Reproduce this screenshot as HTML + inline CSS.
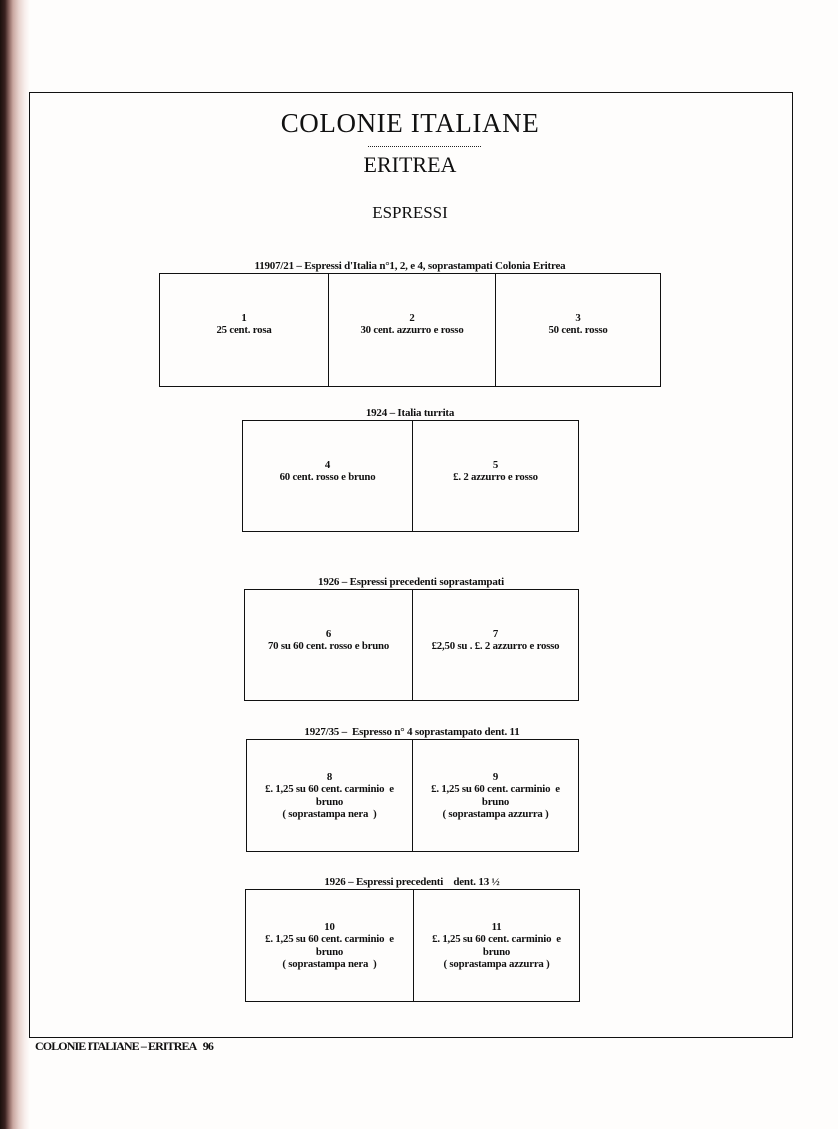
<!DOCTYPE html>
<html><head><meta charset="utf-8"><style>
*{margin:0;padding:0;box-sizing:border-box}
body{width:838px;height:1129px;position:relative;overflow:hidden;background:#fefdfc;font-family:"Liberation Serif",serif;color:#111}
.edge{position:absolute;left:0;top:0;width:30px;height:1129px;background:linear-gradient(to right,#1a0f0c 0px,#3a2220 5px,#8a6560 9px,#c9a7a0 13px,#e8d4cf 19px,#f8efec 25px,#fefdfc 30px)}
.frame{position:absolute;left:29px;top:92px;width:764px;height:946px;border:1.5px solid #111}
.t{position:absolute;left:0;width:820px;text-align:center}
.box{position:absolute;border:1.5px solid #111;display:flex}
.cell{flex:1;display:flex;align-items:center;justify-content:center;text-align:center;font-size:10.8px;font-weight:bold;line-height:12.5px;letter-spacing:-0.2px}
.cell+.cell{border-left:1.5px solid #111}
.cap{position:absolute;font-size:11px;font-weight:bold;text-align:center;white-space:nowrap;letter-spacing:-0.2px}
</style></head><body>
<div class="edge"></div>
<div class="frame"></div>
<div class="t" style="top:108px;font-size:27px;letter-spacing:0.6px">COLONIE ITALIANE</div>
<div style="position:absolute;left:368px;top:146px;width:113px;border-top:1.5px dotted #222"></div>
<div class="t" style="top:152px;font-size:22px">ERITREA</div>
<div class="t" style="top:203px;font-size:17px">ESPRESSI</div>

<div class="cap" style="left:160px;width:500px;top:260px">11907/21 – Espressi d'Italia n°1, 2, e 4, soprastampati Colonia Eritrea</div>
<div class="box" style="left:159px;top:273px;width:502px;height:114px">
<div class="cell" style="flex:0 0 168px;padding-bottom:12px">1<br>25 cent. rosa</div>
<div class="cell" style="flex:0 0 167px;padding-bottom:12px">2<br>30 cent. azzurro e rosso</div>
<div class="cell" style="padding-bottom:12px">3<br>50 cent. rosso</div></div>

<div class="cap" style="left:242px;width:336px;top:407px">1924 – Italia turrita</div>
<div class="box" style="left:242px;top:420px;width:337px;height:112px">
<div class="cell" style="flex:0 0 169px;padding-bottom:10px">4<br>60 cent. rosso e bruno</div>
<div class="cell" style="padding-bottom:10px">5<br>£. 2 azzurro e rosso</div></div>

<div class="cap" style="left:244px;width:334px;top:576px">1926 – Espressi precedenti soprastampati</div>
<div class="box" style="left:244px;top:589px;width:335px;height:112px">
<div class="cell" style="flex:0 0 167px;padding-bottom:10px">6<br>70 su 60 cent. rosso e bruno</div>
<div class="cell" style="padding-bottom:10px">7<br>£2,50 su . £. 2 azzurro e rosso</div></div>

<div class="cap" style="left:246px;width:332px;top:726px">1927/35 –&nbsp; Espresso n° 4 soprastampato dent. 11</div>
<div class="box" style="left:246px;top:739px;width:333px;height:113px">
<div class="cell" style="flex:0 0 165px">8<br>£. 1,25 su 60 cent. carminio&nbsp; e<br>bruno<br>( soprastampa nera&nbsp; )</div>
<div class="cell">9<br>£. 1,25 su 60 cent. carminio&nbsp; e<br>bruno<br>( soprastampa azzurra )</div></div>

<div class="cap" style="left:245px;width:334px;top:876px">1926 – Espressi precedenti &nbsp;&nbsp; dent. 13 ½</div>
<div class="box" style="left:245px;top:889px;width:335px;height:113px">
<div class="cell" style="flex:0 0 167px">10<br>£. 1,25 su 60 cent. carminio&nbsp; e<br>bruno<br>( soprastampa nera&nbsp; )</div>
<div class="cell">11<br>£. 1,25 su 60 cent. carminio&nbsp; e<br>bruno<br>( soprastampa azzurra )</div></div>

<div style="position:absolute;left:35px;top:1039px;font-size:12px;font-weight:bold;letter-spacing:-0.9px;white-space:nowrap">COLONIE ITALIANE – ERITREA&nbsp;&nbsp; 96</div>
</body></html>
